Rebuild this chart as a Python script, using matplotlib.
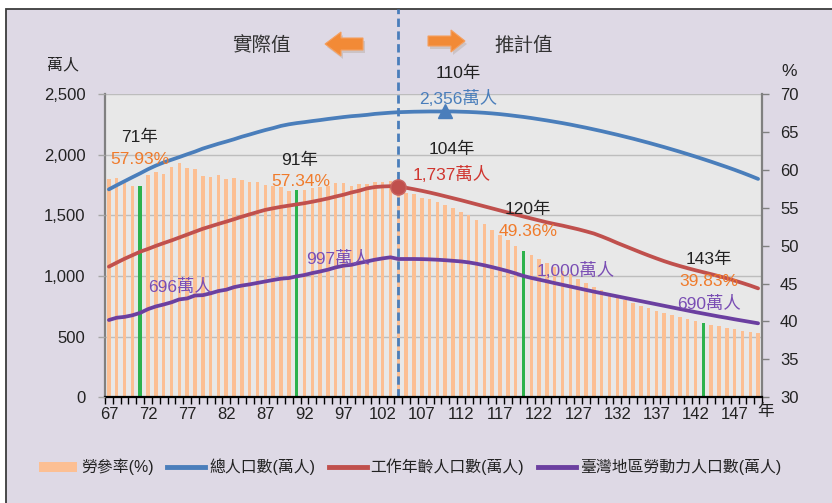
import numpy as np
import matplotlib
matplotlib.use("Agg")
import matplotlib.pyplot as plt
from matplotlib.patches import Rectangle, Polygon, Patch
from matplotlib.lines import Line2D
from matplotlib.ticker import FuncFormatter
from matplotlib.transforms import blended_transform_factory

plt.rcParams['font.family'] = ['Liberation Sans', 'Noto Sans CJK TC', 'DejaVu Sans']

# ---- data (民國年) ----
years = list(range(67, 151))
highlight_years = [71, 91, 120, 143]

# 勞參率 (%)
labor_rate = [
    58.77, 58.96, 58.26, 57.82, 57.93, 59.26, 59.72, 59.49, 60.37, 60.93,
    60.21, 60.12, 59.24, 59.11, 59.34, 58.82, 58.96, 58.71, 58.44, 58.33,
    58.04, 57.93, 57.68, 57.23, 57.34, 57.34, 57.66, 57.78, 57.92, 58.25,
    58.28, 57.90, 58.07, 58.17, 58.35, 58.43, 58.54, 58.65,
    56.98, 56.75, 56.30, 56.10, 55.70, 55.30, 54.90, 54.50, 54.00, 53.40,
    52.80, 52.10, 51.40, 50.70, 50.00, 49.36, 48.80, 48.20, 47.70, 47.25,
    46.70, 46.20, 45.60, 45.10, 44.60, 44.20, 43.60, 43.20, 42.85, 42.40,
    42.05, 41.75, 41.40, 41.15, 40.85, 40.60, 40.30, 40.05, 39.83, 39.60,
    39.40, 39.20, 38.97, 38.80, 38.65, 38.50,
]

# 總人口數 (萬人)
total_pop = [
    1714, 1748, 1781, 1814, 1846, 1880, 1910, 1936, 1958, 1980,
    2003, 2025, 2050, 2070, 2090, 2108, 2127, 2148, 2166, 2185,
    2203, 2219, 2237, 2250, 2260, 2268, 2277, 2285, 2294, 2302,
    2310, 2317, 2322, 2328, 2336, 2341, 2346, 2350,
    2352, 2354, 2355, 2356, 2356, 2356, 2356, 2354, 2352, 2349,
    2345, 2340, 2334, 2327, 2319, 2311, 2302, 2292, 2282, 2271,
    2260, 2248, 2235, 2222, 2208, 2194, 2179, 2164, 2148, 2132,
    2115, 2098, 2080, 2062, 2043, 2024, 2004, 1984, 1963, 1942,
    1920, 1898, 1875, 1851, 1826, 1800,
]

# 工作年齡人口數 (萬人)
working_pop = [
    1077, 1110, 1142, 1171, 1200, 1223, 1248, 1271, 1293, 1317,
    1341, 1365, 1389, 1409, 1429, 1448, 1468, 1489, 1508, 1527,
    1545, 1558, 1570, 1580, 1590, 1600, 1612, 1625, 1639, 1655,
    1670, 1688, 1703, 1722, 1733, 1738, 1740, 1737,
    1727, 1715, 1702, 1688, 1673, 1657, 1641, 1625, 1608, 1591,
    1574, 1557, 1540, 1523, 1506, 1490, 1474, 1458, 1442, 1428,
    1415, 1400, 1385, 1368, 1350, 1326, 1300, 1272, 1246, 1220,
    1194, 1169, 1145, 1122, 1101, 1082, 1064, 1047, 1031, 1015,
    998, 981, 962, 942, 921, 898,
]

# 臺灣地區勞動力人口數 (萬人)
labor_force = [
    637, 656, 663, 676, 696, 727, 749, 765, 783, 807,
    815, 839, 842, 857, 876, 887, 908, 921, 931, 943,
    955, 967, 978, 983, 997, 1008, 1024, 1037, 1052, 1071,
    1085, 1092, 1107, 1120, 1134, 1145, 1154, 1140,
    1140, 1140, 1139, 1137, 1134, 1130, 1125, 1120, 1112, 1101,
    1088, 1073, 1057, 1040, 1021, 1000, 984, 970, 956, 941,
    927, 913, 899, 885, 871, 858, 845, 832, 819, 806,
    793, 780, 767, 754, 741, 728, 715, 702, 690, 678,
    666, 655, 643, 632, 621, 610,
]

split_year = 104      # 實際值 / 推計值 分界
peak_year = 110       # 總人口高峰

xtick_years = list(range(67, 151, 5))
left_ticks = [0, 500, 1000, 1500, 2000, 2500]
right_ticks = [30, 35, 40, 45, 50, 55, 60, 65, 70]

# ---- colours ----
BG = '#DED9E5'
PLOT_BG = '#E8E8E8'
BAR = '#FCBF93'
GREEN = '#2DB24C'
BLUE = '#4A7EBB'
RED = '#C0504D'
PURPLE = '#6B3FA0'
ORANGE_TXT = '#F07B2B'
TXT = '#222222'

W, H = 832, 503
fig = plt.figure(figsize=(W / 100, H / 100), dpi=100)
fig.patch.set_facecolor('white')
frame = Rectangle((6 / W, -0.02), 1.0, 1 - 9 / H + 0.02, transform=fig.transFigure,
                  facecolor=BG, edgecolor='#3C3C3C', lw=1.3, zorder=-10)
fig.add_artist(frame)

L, R, T, B = 105, 762, 94, 397.3
ax = fig.add_axes([L / W, 1 - B / H, (R - L) / W, (B - T) / H])
ax.set_facecolor(PLOT_BG)
ax_l = ax.twinx()

# bars on the percentage scale (right axis)
bar_colors = [GREEN if y in highlight_years else BAR for y in years]
ax.bar(years, labor_rate, width=0.45, color=bar_colors, zorder=2)
ax.set_ylim(30, 70)
ax.set_xlim(min(years) - 0.5, max(years) + 0.5)

# lines on the population scale (left axis)
ax_l.set_ylim(0, 2500)
ax_l.plot(years, total_pop, color=BLUE, lw=2.7, solid_capstyle='round', zorder=3)
ax_l.plot(years, working_pop, color=RED, lw=2.7, solid_capstyle='round', zorder=3)
ax_l.plot(years, labor_force, color=PURPLE, lw=2.7, solid_capstyle='round', zorder=3)
ax_l.plot(peak_year, total_pop[years.index(peak_year)], marker='^', ms=10,
          color=BLUE, zorder=4)
ax_l.plot(split_year, working_pop[years.index(split_year)], marker='o', ms=11,
          color=RED, mec='#C96562', zorder=4)

# horizontal gridlines at the population ticks, beneath the bars
grid_tr = blended_transform_factory(ax.transAxes, ax_l.transData)
for v in left_ticks:
    ax.plot([0, 1], [v, v], transform=grid_tr, color='#BDBDBD', lw=1.0, zorder=1)

# boundary between observed and projected values
ax.axvline(split_year, ymin=0, ymax=(B - 9) / (B - T), clip_on=False,
           color=BLUE, lw=2.0, ls=(0, (3, 1.6)), zorder=2.5)

# axes styling
ax.yaxis.tick_right()
ax.set_yticks(right_ticks)
ax.tick_params(axis='y', which='major', direction='out', length=5, width=1,
               color='#808080', pad=8, labelsize=12, labelcolor=TXT)
ax_l.yaxis.tick_left()
ax_l.set_yticks(left_ticks)
ax_l.yaxis.set_major_formatter(FuncFormatter(lambda v, p: f'{v:,.0f}'))
ax_l.tick_params(axis='y', which='major', direction='out', length=5, width=1,
                 color='#A6A6A6', pad=9, labelsize=12, labelcolor=TXT)

ax.set_xticks(xtick_years)
ax.set_xticklabels([str(y) for y in xtick_years])
ax.set_xticks(np.arange(min(years) - 0.5, max(years) + 1), minor=True)
ax.tick_params(axis='x', which='major', length=0, pad=7, labelsize=12, labelcolor=TXT)
ax.tick_params(axis='x', which='minor', direction='out', length=5, width=1, color='black')

for a in (ax, ax_l):
    a.spines['top'].set_visible(False)
for s in ax_l.spines.values():
    s.set_visible(False)
ax.spines['left'].set_color('#808080')
ax.spines['left'].set_linewidth(1.6)
ax.spines['right'].set_color('#808080')
ax.spines['right'].set_linewidth(1.6)
ax.spines['bottom'].set_color('black')
ax.spines['bottom'].set_linewidth(1.6)

# overlay in pixel coordinates for titles, arrows and annotations
ov = fig.add_axes([0, 0, 1, 1], zorder=5)
ov.set_xlim(0, W)
ov.set_ylim(H, 0)
ov.axis('off')
ov.patch.set_visible(False)

def arrow(points, dx=2, dy=3):
    shadow = Polygon([(x + dx, y + dy) for x, y in points], closed=True,
                     facecolor='#B8A9A0', edgecolor='none', alpha=0.45)
    ov.add_patch(shadow)
    ov.add_patch(Polygon(points, closed=True, facecolor='#F28A36', edgecolor='#F5A060', lw=0.8))

arrow([(325, 44), (341, 32), (341, 38), (363, 38), (363, 50), (341, 50), (341, 56)])
arrow([(465, 41), (451, 30), (451, 36), (428, 36), (428, 46), (451, 46), (451, 52)])

ov.text(261, 46, '實際值', ha='center', va='center', fontsize=14, color='#333333')
ov.text(524, 46, '推計值', ha='center', va='center', fontsize=14, color='#333333')
ov.text(63, 65, '萬人', ha='center', va='center', fontsize=11.5, color=TXT)
ov.text(789, 71, '%', ha='center', va='center', fontsize=12.5, color=TXT)
ov.text(766, 411, '年', ha='center', va='center', fontsize=12, color=TXT)

fs = 12.5
notes = [
    (139, 137, '71年', TXT), (140, 159, '57.93%', ORANGE_TXT),
    (300, 160, '91年', TXT), (301, 182, '57.34%', ORANGE_TXT),
    (458, 73, '110年', TXT), (458, 98, '2,356萬人', BLUE),
    (452, 149, '104年', TXT), (452, 174, '1,737萬人', '#D0352F'),
    (528, 209, '120年', TXT), (528, 232, '49.36%', ORANGE_TXT),
    (709, 259, '143年', TXT), (709, 282, '39.83%', ORANGE_TXT),
    (180, 287, '696萬人', '#7A4EB4'), (338, 259, '997萬人', '#7A4EB4'),
    (576, 271, '1,000萬人', '#7A4EB4'), (709, 304, '690萬人', '#7A4EB4'),
]
for x, y, s, c in notes:
    ov.text(x, y, s, ha='center', va='center', fontsize=fs, color=c)

# legend
handles = [
    Patch(facecolor=BAR, edgecolor='none'),
    Line2D([], [], color=BLUE, lw=3.5),
    Line2D([], [], color=RED, lw=3.5),
    Line2D([], [], color=PURPLE, lw=3.5),
]
labels = ['勞參率(%)', '總人口數(萬人)', '工作年齡人口數(萬人)', '臺灣地區勞動力人口數(萬人)']
fig.legend(handles, labels, loc='center', bbox_to_anchor=(410 / W, 1 - 467 / H),
           ncol=4, frameon=False, fontsize=11.4, handlelength=2.4, handleheight=0.6,
           handletextpad=0.25, columnspacing=0.85, labelcolor=TXT)

fig.savefig('out.png', dpi=100, facecolor=fig.get_facecolor())
